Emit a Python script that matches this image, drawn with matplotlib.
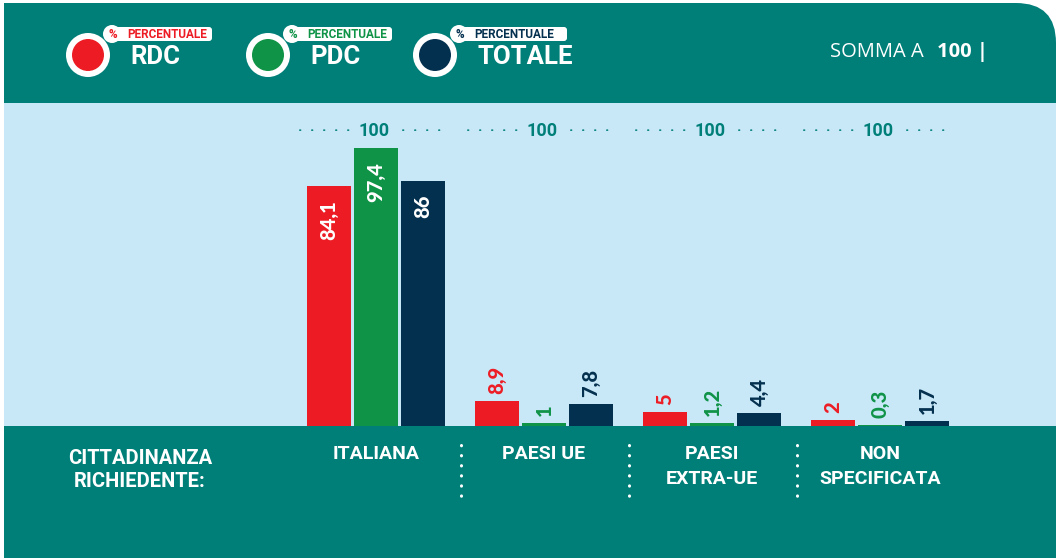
import numpy as np
import matplotlib
matplotlib.use("Agg")
import matplotlib.pyplot as plt
from matplotlib.patches import Rectangle, FancyBboxPatch, Circle

# dati
categorie = ["ITALIANA", "PAESI UE", "PAESI\nEXTRA-UE", "NON\nSPECIFICATA"]
rdc = [84.1, 8.9, 5, 2]
pdc = [97.4, 1, 1.2, 0.3]
totale = [86, 7.8, 4.4, 1.7]
somme = [100, 100, 100, 100]

TEAL = "#007f79"
AZZURRO = "#c8e8f8"
ROSSO = "#ed1c24"
VERDE = "#0f9347"
BLU = "#04304f"
FONT = "Roboto"
FONT_VAL = "Lato"

W, H = 1056, 558
fig = plt.figure(figsize=(W / 100, H / 100), dpi=100, facecolor="white")

# sfondo in coordinate pixel
bg = fig.add_axes([0, 0, 1, 1])
bg.set_xlim(0, W)
bg.set_ylim(H, 0)
bg.axis("off")
bg.add_patch(FancyBboxPatch((4 + 40, 3 + 40), W - 4 - 80, 150, boxstyle="round,pad=40",
                            fc=TEAL, ec="none"))
bg.add_patch(Rectangle((4, 3), 990, 120, fc=TEAL, ec="none"))
bg.add_patch(Rectangle((4, 426), W - 4, H - 426, fc=TEAL, ec="none"))

# legenda
legenda = [(88, ROSSO, "RDC"), (268, VERDE, "PDC"), (435, BLU, "TOTALE")]
for cx, col, nome in legenda:
    bg.add_patch(Circle((cx + 24, 34), 9, fc="white", ec="none"))
    bg.add_patch(FancyBboxPatch((cx + 20, 27), 104 if nome != "TOTALE" else 112, 14,
                                boxstyle="round,pad=0,rounding_size=3", fc="white", ec="none"))
    bg.add_patch(Circle((cx, 55), 22, fc="white", ec="none"))
    bg.add_patch(Circle((cx, 55), 16, fc=col, ec="none"))
    bg.text(cx + 25, 34.5, "%", color=col, fontsize=8.5, fontweight="bold", family=FONT,
            ha="center", va="center")
    bg.text(cx + 39, 34.5, "PERCENTUALE", color=col, fontsize=8.5, fontweight="bold", family=FONT,
            ha="left", va="center")
    bg.text(cx + 42, 57, nome, color="white", fontsize=18.5, fontweight="bold", family=FONT,
            ha="left", va="center")

bg.text(830, 52, "SOMMA A", color="white", fontsize=14.5, family="Open Sans", ha="left", va="center")
bg.text(937, 52, "100 |", color="white", fontsize=14.5, fontweight="bold", family="Open Sans",
        ha="left", va="center")

bg.text(140, 470, "CITTADINANZA\nRICHIEDENTE:", color="white", fontsize=14.5, fontweight="bold",
        family=FONT, ha="center", va="center", linespacing=1.25)

# grafico a barre
ax = fig.add_axes([4 / W, 1 - 426 / H, (W - 4) / W, (426 - 103) / H])
ax.set_facecolor(AZZURRO)
for s in ax.spines.values():
    s.set_visible(False)
x = np.arange(len(categorie))
larg = 0.262
passo = 0.28
ax.set_xlim((4 - 376) / 168, (W - 376) / 168)
ax.set_ylim(0, 323 / 2.854)

serie = [(rdc, ROSSO, -passo), (pdc, VERDE, 0), (totale, BLU, passo)]
for valori, col, off in serie:
    barre = ax.bar(x + off, valori, width=larg, color=col, zorder=2)
    for b, v in zip(barre, valori):
        testo = f"{v:g}".replace(".", ",")
        xc = b.get_x() + b.get_width() / 2
        if v > 50:
            ax.annotate(testo, (xc, v), xytext=(0, -10), textcoords="offset points",
                        rotation=90, ha="center", va="top", color="white", fontsize=14.5,
                        fontweight="black", family=FONT_VAL)
        else:
            ax.annotate(testo, (xc, v), xytext=(0, 5), textcoords="offset points",
                        rotation=90, ha="center", va="bottom", color=col, fontsize=14.5,
                        fontweight="black", family=FONT_VAL)

for xi, s in zip(x, somme):
    ax.text(xi - 0.01, 103.4, str(s), color=TEAL, fontsize=13, fontweight="bold", family=FONT,
            ha="center", va="center")
    ax.annotate("·  ·  ·  ·  ·", (xi, 103.4), xytext=(-18, 0), textcoords="offset points",
                color=TEAL, fontsize=11, fontweight="bold", family=FONT, ha="right", va="center")
    ax.annotate("·  ·  ·  ·", (xi, 103.4), xytext=(18, 0), textcoords="offset points",
                color=TEAL, fontsize=11, fontweight="bold", family=FONT, ha="left", va="center")

ax.set_xticks(x)
ax.set_xticklabels(categorie, color="white", fontsize=14, fontweight="bold", family=FONT,
                   linespacing=1.5)
ax.tick_params(axis="x", length=0, pad=14)
ax.set_yticks([])

for xd in [0.5, 1.5, 2.5]:
    ax.plot([xd + 0.005, xd + 0.005], [-6.8, -27.8], color="white", lw=2.2,
            linestyle=(0, (0.1, 3.2)), dash_capstyle="round", clip_on=False)

fig.savefig("out.png", dpi=100, facecolor=fig.get_facecolor())
